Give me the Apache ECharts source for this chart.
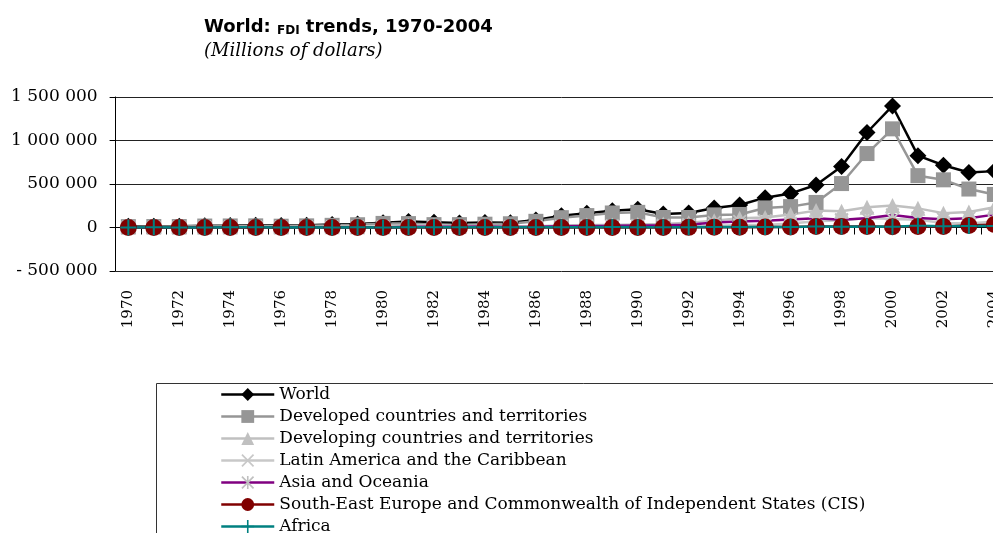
<!DOCTYPE html>
<html>
<head>
<meta charset="utf-8">
<script src="https://cdn.jsdelivr.net/npm/echarts@6/dist/echarts.min.js"></script>
<style>
  html, body { margin: 0; padding: 0; background: #fff; overflow: hidden; }
  /* drawing surface runs a little past the right edge so the last year band is cut */
  #chart { width: 1010px; height: 533px; }
</style>
</head>
<body>
<div id="chart"></div>
<script>
// FDI inflows by region, millions of dollars
const years = ['1970','1971','1972','1973','1974','1975','1976','1977','1978','1979',
  '1980','1981','1982','1983','1984','1985','1986','1987','1988','1989',
  '1990','1991','1992','1993','1994','1995','1996','1997','1998','1999',
  '2000','2001','2002','2003','2004'];

const world = [13000, 14000, 15000, 21000, 23000, 27000, 22000, 27000, 34000, 41000,
  54000, 69000, 59000, 51000, 58000, 56000, 87000, 136000, 164000, 193000,
  209000, 156000, 166000, 225000, 258000, 343000, 392000, 489000, 701000, 1092000,
  1397000, 826000, 716000, 633000, 648000];

const developed = [10000, 11000, 11000, 17000, 18000, 19000, 15000, 19000, 25000, 32000,
  47000, 45000, 33000, 33000, 38000, 43000, 71000, 113000, 137000, 167000,
  174000, 115000, 115000, 145000, 150000, 225000, 240000, 288000, 505000, 850000,
  1134000, 596000, 548000, 442000, 380000];

const developing = [3900, 3700, 3700, 4300, 4900, 7500, 6500, 8300, 9400, 9100,
  7500, 24000, 26000, 18000, 19000, 14000, 15000, 23000, 28000, 28000,
  35000, 41000, 55000, 79000, 107000, 116000, 150000, 194000, 188000, 232000,
  253000, 220000, 165000, 178000, 233000];

const latinAmerica = [1600, 1400, 1700, 2400, 2500, 3300, 2700, 3900, 4700, 7000,
  6400, 8300, 6300, 4200, 3900, 6400, 4700, 6400, 8300, 8200,
  9700, 15000, 16000, 17000, 29000, 30000, 46000, 73000, 82000, 108000,
  97000, 88000, 52000, 46000, 68000];

const asiaOceania = [1000, 1000, 1400, 1700, 2200, 3100, 2000, 2400, 3200, 2200,
  400, 8300, 9600, 9600, 10600, 6400, 7800, 13300, 18100, 18700,
  22600, 24800, 30600, 58000, 70000, 78000, 93000, 106000, 89000, 107000,
  144000, 108000, 96000, 106000, 148000];

const seeCis = [0, 0, 0, 0, 0, 0, 0, 0, 0, 0,
  0, 0, 0, 0, 0, 0, 0, 0, 0, 0,
  100, 100, 1500, 4300, 2200, 6100, 6700, 12700, 11000, 10800,
  9000, 11100, 12500, 24200, 35000];

const africa = [1300, 1600, 1200, 1300, 2400, 1900, 1400, 1700, 1200, 1800,
  400, 1900, 2500, 1600, 2000, 2500, 1800, 2400, 3200, 5000,
  2800, 3700, 3800, 5300, 5900, 5700, 5900, 10900, 9000, 12000,
  9600, 20000, 13000, 18000, 18000];

const seriesNames = [
  'World',
  'Developed countries and territories',
  'Developing countries and territories',
  'Latin America and the Caribbean',
  'Asia and Oceania',
  'South-East Europe and Commonwealth of Independent States (CIS)',
  'Africa'
];

const yTicks = { min: -500000, max: 1500000, step: 500000 };

// marker outlines
const PLUS = 'path://M7,0H9V7H16V9H9V16H7V9H0V7H7Z';
const CROSS = 'path://M1.5,0L8,6.5L14.5,0L16,1.5L9.5,8L16,14.5L14.5,16L8,9.5L1.5,16L0,14.5L6.5,8L0,1.5Z';
const STAR = 'path://M1.5,0L8,6.5L14.5,0L16,1.5L9.5,8L16,14.5L14.5,16L8,9.5L1.5,16L0,14.5L6.5,8L0,1.5Z M7,0H9V16H7Z';

function groupThousands(v) {
  const s = Math.abs(v).toString().replace(/\B(?=(\d{3})+(?!\d))/g, ' ');
  return v < 0 ? '- ' + s : s;
}

const serif = 'DejaVu Serif';

function lineSeries(name, data, lineColor, markColor, symbol, size) {
  return {
    name: name,
    type: 'line',
    data: data,
    xAxisIndex: 0,
    symbol: symbol,
    symbolSize: size,
    showAllSymbol: true,
    clip: false,
    lineStyle: { color: lineColor, width: 2.5 },
    itemStyle: { color: markColor, borderWidth: 0 },
    emphasis: { disabled: true },
    animation: false
  };
}

// plot spans 35 year bands of ~25.47px
const plotLeft = 115.6;
const plotWidth = 891.5;

const chart = echarts.init(document.getElementById('chart'));
chart.setOption({
  animation: false,
  backgroundColor: '#fff',
  title: [
    {
      left: 204, top: 17, padding: 0,
      text: '{a|World: }{b|FDI}{a| trends, 1970-2004}',
      textStyle: {
        rich: {
          a: { fontFamily: 'DejaVu Sans', fontWeight: 'bold', fontSize: 18, color: '#000', lineHeight: 20 },
          b: { fontFamily: 'DejaVu Sans', fontWeight: 'bold', fontSize: 12, color: '#000', lineHeight: 14, verticalAlign: 'bottom' }
        }
      }
    },
    {
      left: 204, top: 42, padding: 0,
      text: '(Millions of dollars)',
      textStyle: { fontFamily: serif, fontStyle: 'italic', fontWeight: 'normal', fontSize: 18, color: '#000' }
    }
  ],
  grid: { left: plotLeft, top: 97, width: plotWidth, bottom: 262, containLabel: false },
  xAxis: [
    {
      type: 'category',
      data: years,
      position: 'bottom',
      boundaryGap: true,
      axisLine: { show: false, onZero: false },
      axisTick: { show: false },
      axisLabel: {
        interval: 1, rotate: 90, margin: 19,
        fontFamily: serif, fontSize: 15, color: '#000'
      },
      splitLine: { show: false }
    },
    {
      type: 'category',
      data: years,
      position: 'top',
      boundaryGap: true,
      axisLine: { show: true, onZero: true, lineStyle: { color: '#000', width: 1 } },
      axisTick: { show: true, inside: true, interval: 0, length: 7, lineStyle: { color: '#000', width: 1 } },
      axisLabel: { show: false },
      splitLine: { show: false }
    }
  ],
  yAxis: {
    type: 'value',
    min: yTicks.min, max: yTicks.max, interval: yTicks.step,
    axisLine: { show: true, lineStyle: { color: '#000', width: 1 } },
    axisTick: { show: true, length: 6, lineStyle: { color: '#000' } },
    axisLabel: {
      margin: 18, fontFamily: serif, fontSize: 17, color: '#000',
      formatter: groupThousands
    },
    splitLine: { show: true, lineStyle: { color: '#222', width: 1 } }
  },
  legend: {
    orient: 'vertical',
    left: 220, top: 386,
    height: 220,
    padding: 0,
    itemWidth: 53, itemHeight: 16, itemGap: 5,
    lineStyle: { width: 2.5 },
    textStyle: { fontFamily: serif, fontSize: 17, lineHeight: 17, color: '#000' },
    data: seriesNames
  },
  graphic: [
    {
      type: 'rect',
      shape: { x: 156.5, y: 383.5, width: 900, height: 200 },
      style: { fill: 'none', stroke: '#333', lineWidth: 1 },
      silent: true,
      z: -1
    }
  ],
  series: [
    lineSeries(seriesNames[0], world, '#000000', '#000000', 'diamond', 17),
    lineSeries(seriesNames[1], developed, '#969696', '#969696', 'rect', 15),
    lineSeries(seriesNames[2], developing, '#C0C0C0', '#C0C0C0', 'triangle', 15),
    lineSeries(seriesNames[3], latinAmerica, '#C8C8C8', '#C8C8C8', CROSS, 14),
    lineSeries(seriesNames[4], asiaOceania, '#800080', '#C0C0C0', STAR, 14),
    lineSeries(seriesNames[5], seeCis, '#800000', '#800000', 'circle', 17),
    lineSeries(seriesNames[6], africa, '#008080', '#008080', PLUS, 16)
  ]
});
</script>
</body>
</html>
